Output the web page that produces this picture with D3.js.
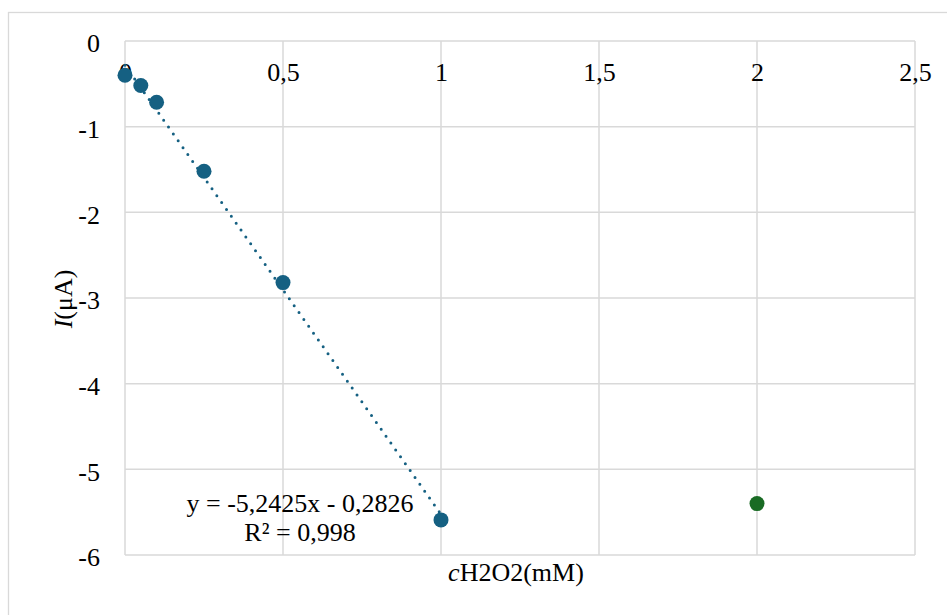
<!DOCTYPE html>
<html>
<head>
<meta charset="utf-8">
<script src="https://cdn.jsdelivr.net/npm/d3@7/dist/d3.min.js"></script>
<style>
  html, body { margin: 0; padding: 0; background: #fff; }
  svg { display: block; }
  text { font-family: "Liberation Serif", "Times New Roman", serif; fill: #000; }
</style>
</head>
<body>
<svg id="chart" width="947" height="615"></svg>
<script>
// ---- data ----
const concentrations = [0, 0.05, 0.1, 0.25, 0.5, 1];          // mM (series 1)
const currents       = [-0.40, -0.52, -0.715, -1.52, -2.82, -5.59]; // µA (series 1)
const extraX = [2];        // series 2
const extraY = [-5.40];
const xTicks = [0, 0.5, 1, 1.5, 2, 2.5];
const yTicks = [0, -1, -2, -3, -4, -5, -6];
const trendSlope = -5.2425;
const trendIntercept = -0.2826;
const trendLabel1 = "y = -5,2425x - 0,2826";
const trendLabel2 = "R² = 0,998";

// ---- layout ----
const svg = d3.select("#chart");
const x = d3.scaleLinear().domain([0, 2.5]).range([125, 915]);
const y = d3.scaleLinear().domain([-6, 0]).range([555, 41]);
const fmt = d => String(d).replace(".", ",");
const blue = "#156082", green = "#196B24", grid = "#d9d9d9";

// outer chart border
svg.append("rect").attr("x", 8.5).attr("y", 12.5).attr("width", 1000).attr("height", 1000)
  .attr("fill", "#fff").attr("stroke", grid).attr("stroke-width", 1.3);

// gridlines
svg.append("g").selectAll("line.v").data(xTicks).join("line")
  .attr("x1", d => x(d)).attr("x2", d => x(d)).attr("y1", y(0)).attr("y2", y(-6))
  .attr("stroke", grid).attr("stroke-width", 1.5);
svg.append("g").selectAll("line.h").data(yTicks).join("line")
  .attr("x1", x(0)).attr("x2", x(2.5)).attr("y1", d => y(d)).attr("y2", d => y(d))
  .attr("stroke", grid).attr("stroke-width", 1.5);

// y axis labels
const yAxis = d3.axisLeft(y).tickValues(yTicks).tickFormat(fmt).tickSize(0).tickPadding(25);
const gy = svg.append("g").attr("transform", `translate(${x(0)},0)`).call(yAxis);
gy.select(".domain").remove();
gy.selectAll("text").attr("font-size", 26).attr("font-family", "Liberation Serif").attr("dy", "0.42em");

// x axis labels (drawn at the zero line, i.e. the top)
const xAxis = d3.axisBottom(x).tickValues(xTicks).tickFormat(fmt).tickSize(0).tickPadding(22);
const gx = svg.append("g").attr("transform", `translate(0,${y(0)})`).call(xAxis);
gx.select(".domain").remove();
gx.selectAll("text").attr("font-size", 26).attr("font-family", "Liberation Serif");

// trendline
const tx = d3.extent(concentrations);
svg.append("line")
  .attr("x1", x(tx[0])).attr("y1", y(trendSlope * tx[0] + trendIntercept))
  .attr("x2", x(tx[1])).attr("y2", y(trendSlope * tx[1] + trendIntercept))
  .attr("stroke", blue).attr("stroke-width", 3)
  .attr("stroke-linecap", "round").attr("stroke-dasharray", "0 8.4");

// points
svg.append("g").selectAll("circle").data(concentrations.map((c, i) => [c, currents[i]])).join("circle")
  .attr("cx", d => x(d[0])).attr("cy", d => y(d[1])).attr("r", 7.5).attr("fill", blue);
svg.append("g").selectAll("circle").data(extraX.map((c, i) => [c, extraY[i]])).join("circle")
  .attr("cx", d => x(d[0])).attr("cy", d => y(d[1])).attr("r", 7.5).attr("fill", green);

// trendline label
svg.append("text").attr("x", 300).attr("y", 512).attr("text-anchor", "middle").attr("font-size", 26).text(trendLabel1);
svg.append("text").attr("x", 300).attr("y", 541).attr("text-anchor", "middle").attr("font-size", 26).text(trendLabel2);

// axis titles
const xt = svg.append("text").attr("x", 516).attr("y", 581).attr("text-anchor", "middle").attr("font-size", 26);
xt.append("tspan").attr("font-style", "italic").text("c");
xt.append("tspan").text("H2O2(mM)");

const yt = svg.append("text").attr("transform", "translate(72,299) rotate(-90)")
  .attr("text-anchor", "middle").attr("font-size", 26);
yt.append("tspan").attr("font-style", "italic").text("I");
yt.append("tspan").text("(μA)");
</script>
</body>
</html>
